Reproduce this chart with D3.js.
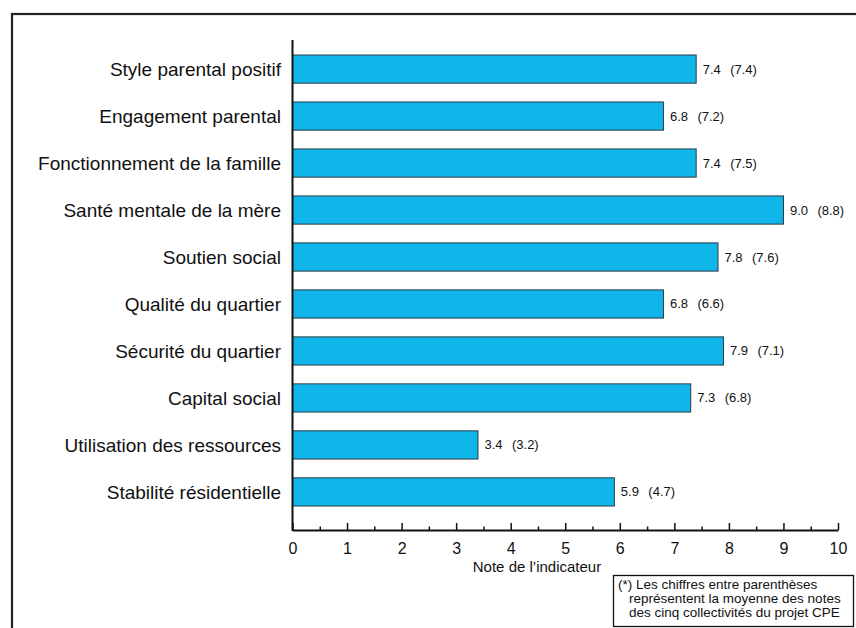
<!DOCTYPE html>
<html>
<head>
<meta charset="utf-8">
<script src="https://cdn.jsdelivr.net/npm/d3@7/dist/d3.min.js"></script>
<style>
  html, body { margin: 0; padding: 0; background: #fff; }
  svg { display: block; font-family: "Liberation Sans", Arial, sans-serif; }
</style>
</head>
<body>
<svg id="chart" width="856" height="628"></svg>
<script>
const categories = [
  "Style parental positif",
  "Engagement parental",
  "Fonctionnement de la famille",
  "Santé mentale de la mère",
  "Soutien social",
  "Qualité du quartier",
  "Sécurité du quartier",
  "Capital social",
  "Utilisation des ressources",
  "Stabilité résidentielle"
];
const values = [7.4, 6.8, 7.4, 9.0, 7.8, 6.8, 7.9, 7.3, 3.4, 5.9];
const averages = [7.4, 7.2, 7.5, 8.8, 7.6, 6.6, 7.1, 6.8, 3.2, 4.7];
const xTicks = [0, 1, 2, 3, 4, 5, 6, 7, 8, 9, 10];
const xMinorTicks = [0.5, 1.5, 2.5, 3.5, 4.5, 5.5, 6.5, 7.5, 8.5, 9.5];
const xTitle = "Note de l\u2019indicateur";
const noteLines = [
  "(*) Les chiffres entre parenthèses",
  "représentent la moyenne des notes",
  "des cinq collectivités du projet CPE"
];

const svg = d3.select("#chart");

// outer frame
svg.append("rect")
  .attr("x", 12).attr("y", 14)
  .attr("width", 900).attr("height", 700)
  .attr("fill", "none").attr("stroke", "#222").attr("stroke-width", 2.2);

const x = d3.scaleLinear().domain([0, 10]).range([292.5, 838]);
const y = d3.scaleBand().domain(categories).range([45.6, 515.4])
  .paddingInner(0.4).paddingOuter(0.2);

const axisY = 530;

// bars
svg.append("g").selectAll("rect")
  .data(categories)
  .join("rect")
  .attr("x", x(0))
  .attr("y", d => y(d))
  .attr("width", (d, i) => x(values[i]) - x(0))
  .attr("height", y.bandwidth())
  .attr("fill", "#10b6ea")
  .attr("stroke", "#2a3a44")
  .attr("stroke-width", 1);

// category labels
svg.append("g").selectAll("text")
  .data(categories)
  .join("text")
  .attr("x", 281)
  .attr("y", d => y(d) + y.bandwidth() / 2)
  .attr("dy", "0.36em")
  .attr("text-anchor", "end")
  .attr("font-size", 19)
  .attr("fill", "#111")
  .text(d => d);

// value labels
const vl = svg.append("g").attr("font-size", 13).attr("fill", "#111");
vl.selectAll("text.v")
  .data(categories)
  .join("text")
  .attr("class", "v")
  .attr("x", (d, i) => x(values[i]) + 6.5)
  .attr("y", d => y(d) + y.bandwidth() / 2 + 4.5)
  .text((d, i) => values[i].toFixed(1));
vl.selectAll("text.a")
  .data(categories)
  .join("text")
  .attr("class", "a")
  .attr("x", (d, i) => x(values[i]) + 34)
  .attr("y", d => y(d) + y.bandwidth() / 2 + 4.5)
  .text((d, i) => "(" + averages[i].toFixed(1) + ")");

// y axis line
svg.append("line")
  .attr("x1", x(0)).attr("x2", x(0))
  .attr("y1", 40).attr("y2", axisY + 1)
  .attr("stroke", "#111").attr("stroke-width", 2);

// minor ticks
const minorAxis = d3.axisBottom(x).tickValues(xMinorTicks)
  .tickSizeInner(-3.5).tickSizeOuter(0).tickFormat("");
const gm = svg.append("g").attr("transform", `translate(0,${axisY})`).call(minorAxis);
gm.select(".domain").remove();
gm.selectAll(".tick line").attr("stroke", "#111").attr("stroke-width", 1.5);

// major axis
const xAxis = d3.axisBottom(x).tickValues(xTicks)
  .tickSizeInner(-7).tickSizeOuter(0).tickPadding(12.6)
  .tickFormat(d3.format("d"));
const gx = svg.append("g").attr("transform", `translate(0,${axisY})`).call(xAxis);
gx.select(".domain").attr("stroke", "#111").attr("stroke-width", 2);
gx.selectAll(".tick line").attr("stroke", "#111").attr("stroke-width", 1.5);
gx.selectAll(".tick text")
  .attr("font-family", "Liberation Sans, Arial, sans-serif")
  .attr("font-size", 16).attr("fill", "#111");

// axis title
svg.append("text")
  .attr("x", 537).attr("y", 572)
  .attr("text-anchor", "middle")
  .attr("font-size", 15).attr("fill", "#111")
  .text(xTitle);

// note box
svg.append("rect")
  .attr("x", 613.5).attr("y", 575.5)
  .attr("width", 240).attr("height", 51)
  .attr("fill", "#fff").attr("stroke", "#111").attr("stroke-width", 1.3);
svg.append("g").selectAll("text")
  .data(noteLines)
  .join("text")
  .attr("x", (d, i) => i === 0 ? 618 : 629)
  .attr("y", (d, i) => 589 + i * 14)
  .attr("font-size", 13.5).attr("fill", "#111")
  .text(d => d);
</script>
</body>
</html>
